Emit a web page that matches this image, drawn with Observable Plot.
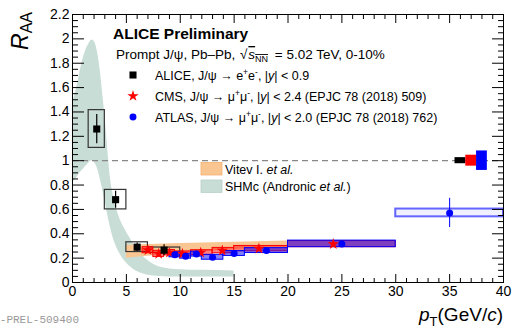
<!DOCTYPE html>
<html><head><meta charset="utf-8">
<script src="https://cdn.jsdelivr.net/npm/d3@7"></script>
<script src="https://cdn.jsdelivr.net/npm/@observablehq/plot@0.6"></script>
<style>html,body{margin:0;padding:0;background:#fff;} svg{display:block}</style>
</head><body><div id="chart"></div>
<script>
// ---- tick labels ----
const xMajor = [0, 5, 10, 15, 20, 25, 30, 35, 40];
const xMinor = d3.range(0, 41).filter(d => d % 5 !== 0);
const yMajor = [0, 0.2, 0.4, 0.6, 0.8, 1, 1.2, 1.4, 1.6, 1.8, 2, 2.2];
const yMinor = d3.range(0, 45).filter(i => i % 4 !== 0).map(i => i * 0.05);

// ---- SHMc band (Andronic et al.) ----
const shmcPt   = [0, 0.4, 0.7, 1.0, 1.3, 1.6, 1.8, 2.0, 2.3, 2.6, 2.8, 3.05, 3.3, 3.5, 3.8, 4.25, 4.9, 5.5, 6, 7, 8, 10, 12, 15];
const shmcHigh = [1.48, 1.6, 1.73, 1.84, 1.92, 1.97, 1.99, 1.98, 1.9, 1.72, 1.55, 1.33, 1.06, 0.87, 0.71, 0.56, 0.43, 0.34, 0.27, 0.18, 0.13, 0.105, 0.1, 0.095];
const shmcLow  = [0.82, 0.86, 0.9, 0.93, 0.96, 0.99, 1.0, 0.99, 0.94, 0.84, 0.76, 0.65, 0.54, 0.46, 0.36, 0.26, 0.17, 0.12, 0.09, 0.06, 0.05, 0.045, 0.045, 0.045];

// ---- Vitev band ----
const vitevPt   = [5, 10, 15, 20];
const vitevLow  = [0.2, 0.24, 0.27, 0.29];
const vitevHigh = [0.305, 0.32, 0.33, 0.34];

// ---- ALICE ----
const aliceLo   = [1.5, 3, 5, 7];
const aliceHi   = [3, 5, 7, 10];
const alicePt   = [2.25, 4, 6, 8.5];
const aliceR    = [1.26, 0.68, 0.29, 0.265];
const aliceStat = [0.12, 0.07, 0.035, 0.045];
const aliceSyst = [0.155, 0.08, 0.04, 0.022];

// ---- CMS ----
const cmsLo   = [6.5, 7.5, 8.5, 9.5, 11, 13, 15, 20];
const cmsHi   = [7.5, 8.5, 9.5, 11, 13, 15, 20, 30];
const cmsPt   = [7.0, 8.0, 9.0, 10.2, 11.9, 13.9, 17.3, 24.2];
const cmsR    = [0.265, 0.235, 0.245, 0.235, 0.245, 0.262, 0.278, 0.315];
const cmsStat = [0.02, 0.02, 0.02, 0.015, 0.015, 0.02, 0.02, 0.025];
const cmsSyst = [0.025, 0.025, 0.022, 0.02, 0.02, 0.022, 0.022, 0.025];

// ---- ATLAS ----
const atlasLo   = [9, 10, 11, 12, 14, 16, 20, 30];
const atlasHi   = [10, 11, 12, 14, 16, 20, 30, 40];
const atlasPt   = [9.5, 10.5, 11.5, 13, 15, 18, 25, 35];
const atlasR    = [0.227, 0.216, 0.233, 0.207, 0.238, 0.262, 0.317, 0.571];
const atlasStat = [0.01, 0.01, 0.01, 0.01, 0.012, 0.015, 0.02, 0.12];
const atlasSyst = [0.02, 0.02, 0.02, 0.02, 0.02, 0.02, 0.027, 0.032];

// ---- global normalisation uncertainties ----
const globNames = ["ALICE", "CMS", "ATLAS"];
const globLo    = [35.5, 36.5, 37.5];
const globHi    = [36.5, 37.5, 38.5];
const globUnc   = [0.025, 0.045, 0.08];

// ---- build tables ----
const shmc  = shmcPt.map((x, i) => ({x, lo: shmcLow[i], hi: shmcHigh[i]}));
const vitev = vitevPt.map((x, i) => ({x, lo: vitevLow[i], hi: vitevHigh[i]}));
const mk = (lo, hi, pt, r, st, sy) => pt.map((x, i) => ({lo: lo[i], hi: hi[i], x, y: r[i], st: st[i], sy: sy[i]}));
const alice = mk(aliceLo, aliceHi, alicePt, aliceR, aliceStat, aliceSyst);
const cms   = mk(cmsLo, cmsHi, cmsPt, cmsR, cmsStat, cmsSyst);
const atlas = mk(atlasLo, atlasHi, atlasPt, atlasR, atlasStat, atlasSyst);
const glob  = globNames.map((n, i) => ({n, lo: globLo[i], hi: globHi[i], u: globUnc[i]}));
const globColor = {ALICE: "black", CMS: "#ff0000", ATLAS: "#0000ff"};

const FONT = "Liberation Sans, Arial, Helvetica, sans-serif";
const fmt = d => String(+d.toFixed(1));

const chart = Plot.plot({
  width: 513, height: 327,
  marginLeft: 72, marginRight: 10, marginTop: 14, marginBottom: 45,
  x: {domain: [0, 40]},
  y: {domain: [0, 2.2]},
  style: {fontFamily: FONT, fontSize: "14px", color: "black", background: "white"},
  marks: [
    Plot.areaY(shmc, {x: "x", y1: "lo", y2: "hi", fill: "#c8ddd5", curve: "monotone-x"}),
    Plot.areaY(vitev, {x: "x", y1: "lo", y2: "hi", fill: "#f9c692", curve: "linear"}),
    Plot.ruleY([1], {stroke: "#888", strokeWidth: 1.3, strokeDasharray: "6,4"}),
    Plot.rect(alice, {x1: "lo", x2: "hi", y1: d => d.y - d.sy, y2: d => d.y + d.sy, fill: "none", stroke: "#333", strokeWidth: 1.2}),
    Plot.rect(cms, {x1: "lo", x2: "hi", y1: d => d.y - d.sy, y2: d => d.y + d.sy, fill: "#ff0000", fillOpacity: 0.5, stroke: "#ff0000", strokeWidth: 1}),
    Plot.rect(atlas.slice(0, 7), {x1: "lo", x2: "hi", y1: d => d.y - d.sy, y2: d => d.y + d.sy, fill: "#0000ff", fillOpacity: 0.5, stroke: "#0000ff", strokeWidth: 1}),
    Plot.rect(atlas.slice(7), {x1: "lo", x2: "hi", y1: d => d.y - d.sy, y2: d => d.y + d.sy, fill: "#0000ff", fillOpacity: 0.06, stroke: "#0000ff", strokeOpacity: 0.6, strokeWidth: 2}),
    Plot.ruleX(alice, {x: "x", y1: d => d.y - d.st, y2: d => d.y + d.st, stroke: "black", strokeWidth: 1.2}),
    Plot.ruleX(cms, {x: "x", y1: d => d.y - d.st, y2: d => d.y + d.st, stroke: "#ff0000", strokeWidth: 1}),
    Plot.ruleX(atlas, {x: "x", y1: d => d.y - d.st, y2: d => d.y + d.st, stroke: "#0000ff", strokeWidth: 1}),
    Plot.dot(cms, {x: "x", y: "y", symbol: "star", r: 3.6, fill: "#ff0000", stroke: "none"}),
    Plot.dot(atlas, {x: "x", y: "y", symbol: "circle", r: 3.5, fill: "#0000ff", stroke: "none"}),
    Plot.dot(alice, {x: "x", y: "y", symbol: "square", r: 4, fill: "black", stroke: "none"}),
    Plot.rect(glob, {x1: "lo", x2: "hi", y1: d => 1 - d.u, y2: d => 1 + d.u, fill: d => globColor[d.n]}),
    Plot.axisX({ticks: xMajor, tickSize: -8, fill: "none", label: null}),
    Plot.axisX({ticks: xMinor, tickSize: -4, fill: "none", label: null}),
    Plot.axisX({anchor: "top", ticks: xMajor, tickSize: -8, fill: "none", label: null}),
    Plot.axisX({anchor: "top", ticks: xMinor, tickSize: -4, fill: "none", label: null}),
    Plot.axisX({ticks: xMajor, tickSize: 0, tickPadding: 4, label: null, fontSize: 14}),
    Plot.axisY({ticks: yMajor, tickSize: -12, fill: "none", label: null}),
    Plot.axisY({ticks: yMinor, tickSize: -6, fill: "none", label: null}),
    Plot.axisY({anchor: "right", ticks: yMajor, tickSize: -12, fill: "none", label: null}),
    Plot.axisY({anchor: "right", ticks: yMinor, tickSize: -6, fill: "none", label: null}),
    Plot.axisY({ticks: yMajor, tickSize: 0, tickPadding: 3, tickFormat: fmt, label: null, fontSize: 14}),
    Plot.frame({stroke: "black", strokeWidth: 1})
  ]
});
document.getElementById("chart").appendChild(chart);

// ---- annotations ----
const svg = d3.select(chart);
const g = svg.append("g").attr("font-family", FONT).attr("fill", "black").attr("text-anchor", "start");

g.append("text").attr("x", 113).attr("y", 38.5).attr("font-size", 15.5).attr("font-weight", "bold").text("ALICE Preliminary");

const sub = g.append("text").attr("x", 116).attr("y", 59).attr("font-size", 13.5);
sub.append("tspan").text("Prompt J/ψ, Pb–Pb, ");
sub.append("tspan").attr("dx", 1).text("√");
sub.append("tspan").attr("dx", 1).attr("font-style", "italic").attr("text-decoration", "overline").text("s");
sub.append("tspan").attr("font-size", 9).attr("dy", 3).attr("text-decoration", "overline").text("NN");
sub.append("tspan").attr("dy", -3).attr("dx", 3).text(" = 5.02 TeV, 0-10%");

function legendLine(y, parts) {
  const t = g.append("text").attr("x", 155).attr("y", y).attr("font-size", 12.5);
  for (const p of parts) {
    const s = t.append("tspan").text(p.t);
    if (p.i) s.attr("font-style", "italic");
    if (p.sup) s.attr("font-size", 8.5).attr("dy", -5);
    if (p.back) s.attr("dy", 5);
  }
}
legendLine(79.5, [{t: "ALICE, J/ψ → e"}, {t: "+", sup: 1}, {t: "e", back: 1}, {t: "-", sup: 1}, {t: ", |", back: 1}, {t: "y", i: 1}, {t: "| < 0.9"}]);
legendLine(100.5, [{t: "CMS, J/ψ → μ"}, {t: "+", sup: 1}, {t: "μ", back: 1}, {t: "-", sup: 1}, {t: ", |", back: 1}, {t: "y", i: 1}, {t: "| < 2.4 (EPJC 78 (2018) 509)"}]);
legendLine(121.5, [{t: "ATLAS, J/ψ → μ"}, {t: "+", sup: 1}, {t: "μ", back: 1}, {t: "-", sup: 1}, {t: ", |", back: 1}, {t: "y", i: 1}, {t: "| < 2.0 (EPJC 78 (2018) 762)"}]);

g.append("path").attr("transform", "translate(133,75)").attr("d", d3.symbol(d3.symbolSquare, 50)()).attr("fill", "black");
g.append("path").attr("transform", "translate(133,96)").attr("d", d3.symbol(d3.symbolStar, 40)()).attr("fill", "#ff0000");
g.append("path").attr("transform", "translate(133,117)").attr("d", d3.symbol(d3.symbolCircle, 38)()).attr("fill", "#0000ff");

g.append("rect").attr("x", 201).attr("y", 162.5).attr("width", 21).attr("height", 12.5).attr("fill", "#f9c692").attr("stroke", "#f4b070").attr("stroke-width", 0.8);
g.append("rect").attr("x", 201).attr("y", 180).attr("width", 21).attr("height", 12.5).attr("fill", "#c8ddd5").attr("stroke", "#b9d0c8").attr("stroke-width", 0.8);
const v = g.append("text").attr("x", 225).attr("y", 173.5).attr("font-size", 12.5);
v.append("tspan").text("Vitev I. ");
v.append("tspan").attr("font-style", "italic").text("et al.");
const s2 = g.append("text").attr("x", 225).attr("y", 191).attr("font-size", 12.5);
s2.append("tspan").text("SHMc (Andronic ");
s2.append("tspan").attr("font-style", "italic").text("et al.");
s2.append("tspan").text(")");

const yl = g.append("text").attr("transform", "translate(28,12) rotate(-90)").attr("text-anchor", "end");
yl.append("tspan").attr("font-size", 23).attr("font-style", "italic").text("R");
yl.append("tspan").attr("font-size", 16).attr("dy", 4).text("AA");

const xl = g.append("text").attr("x", 503).attr("y", 321).attr("text-anchor", "end").attr("font-size", 19);
xl.append("tspan").attr("font-style", "italic").text("p");
xl.append("tspan").attr("font-size", 13).attr("dy", 5).text("T");
xl.append("tspan").attr("dy", -5).text("(GeV/");
xl.append("tspan").attr("font-style", "italic").text("c");
xl.append("tspan").text(")");

g.append("text").attr("x", -20).attr("y", 323).attr("font-family", "Liberation Mono, DejaVu Sans Mono, monospace").attr("font-size", 11).attr("fill", "#999").text("ALI-PREL-509400");
</script></body></html>
